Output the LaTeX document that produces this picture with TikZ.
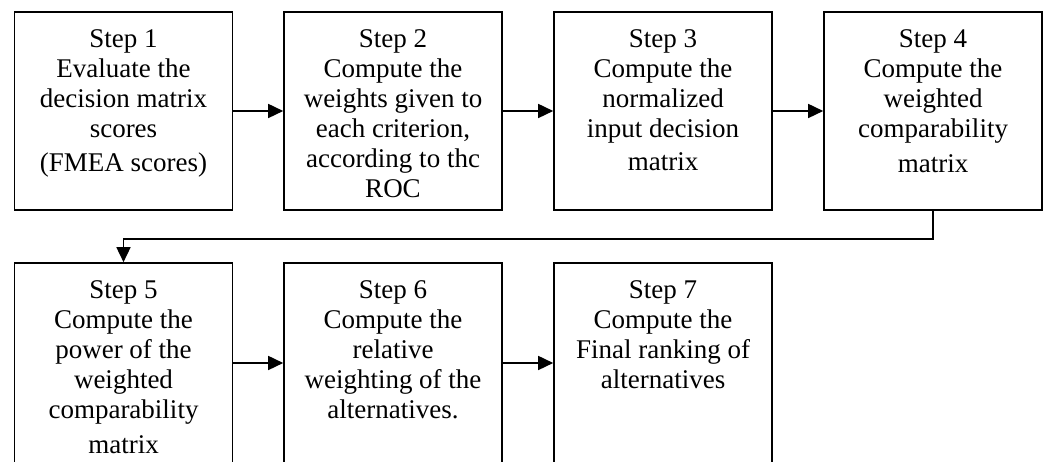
\documentclass[tikz,border=0pt]{standalone}
\usepackage{fontspec}
\setmainfont{Liberation Serif}
\usetikzlibrary{arrows.meta}
\tikzset{
  stepbox/.style={draw, line width=1.6pt, inner sep=0pt, rectangle},
  flow/.style={line width=1.6pt, -{Triangle[length=15pt,width=14pt]}}
}
\newcommand{\boxtext}[2]{\parbox[c][#1][t]{218pt}{\fontsize{27}{30}\selectfont\centering\vspace*{15pt}\strut #2}}
\begin{document}
\begin{tikzpicture}[x=1pt,y=1pt]
\useasboundingbox (0,0) rectangle (1045,462);
% top row: y center px 111 -> 351
\node[stepbox] (s1) at (123.5,351) {\boxtext{198pt}{Step 1\\Evaluate the\\decision matrix\\scores\\[4pt](FMEA scores)}};
\node[stepbox] (s2) at (393,351) {\boxtext{198pt}{Step 2\\Compute the\\weights given to\\each criterion,\\according to thc\\ROC}};
\node[stepbox] (s3) at (663,351) {\boxtext{198pt}{Step 3\\Compute the\\normalized\\input decision\\[3pt]matrix}};
\node[stepbox] (s4) at (933,351) {\boxtext{198pt}{Step 4\\Compute the\\weighted\\comparability\\[5pt]matrix}};
% bottom row: y center px 363 -> 99
\node[stepbox] (s5) at (123.5,99) {\boxtext{200pt}{Step 5\\Compute the\\power of the\\weighted\\comparability\\[5pt]matrix}};
\node[stepbox] (s6) at (393,99) {\boxtext{200pt}{Step 6\\Compute the\\relative\\weighting of the\\alternatives.}};
\node[stepbox] (s7) at (663,99) {\boxtext{200pt}{Step 7\\Compute the\\Final ranking of\\alternatives}};
\draw[flow] (s1.east) -- (s2.west);
\draw[flow] (s2.east) -- (s3.west);
\draw[flow] (s3.east) -- (s4.west);
\draw[flow] (s4.south) -- ++(0,-28) -| (s5.north);
\draw[flow] (s5.east) -- (s6.west);
\draw[flow] (s6.east) -- (s7.west);
\end{tikzpicture}
\end{document}
